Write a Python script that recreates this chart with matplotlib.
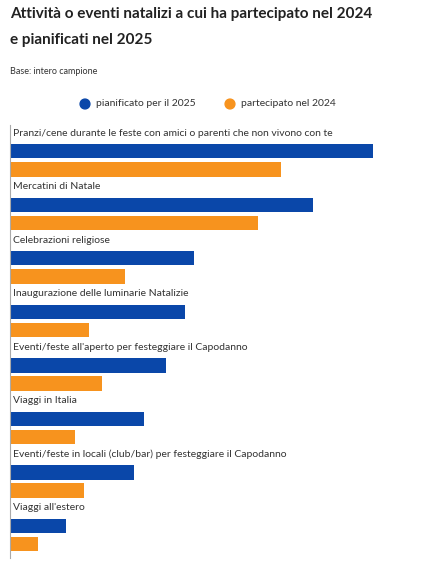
import matplotlib
matplotlib.use("Agg")
import matplotlib.pyplot as plt
import numpy as np

plt.rcParams['font.family'] = ['Lato', 'DejaVu Sans']

categories = [
    "Pranzi/cene durante le feste con amici o parenti che non vivono con te",
    "Mercatini di Natale",
    "Celebrazioni religiose",
    "Inaugurazione delle luminarie Natalizie",
    "Eventi/feste all'aperto per festeggiare il Capodanno",
    "Viaggi in Italia",
    "Eventi/feste in locali (club/bar) per festeggiare il Capodanno",
    "Viaggi all'estero",
]
pianificato_2025 = [363, 303, 184, 175, 156, 134, 124, 56]
partecipato_2024 = [271, 248, 115, 79, 92, 65, 74, 28]

blue = "#0a47a9"
orange = "#f7931e"

fig = plt.figure(figsize=(4.46, 5.74), dpi=100)
W, H = 446, 574
ax = fig.add_axes([10 / W, 1 - 558 / H, 426 / W, 433 / H])
pos = np.arange(len(categories))
ax.barh(pos + 0.49, pianificato_2025, height=0.27, color=blue)
ax.barh(pos + 0.83, partecipato_2024, height=0.27, color=orange)
for p, c in zip(pos, categories):
    ax.text(3, p + 0.15, c, fontsize=7.5, color="#333333", va="center", ha="left")
ax.set_xlim(0, 426)
ax.set_ylim(8.09, 0)
for s in ["top", "right", "bottom"]:
    ax.spines[s].set_visible(False)
ax.spines["left"].set_color("#aaaaaa")
ax.set_xticks([])
ax.set_yticks([])

fig.text(10 / W, 1 - 14 / H, "Attività o eventi natalizi a cui ha partecipato nel 2024",
         fontsize=11, fontweight="bold", color="#222222", va="center")
fig.text(10 / W, 1 - 40 / H, "e pianificati nel 2025",
         fontsize=11, fontweight="bold", color="#222222", va="center")
fig.text(10 / W, 1 - 71 / H, "Base: intero campione", fontsize=6.5, color="#333333", va="center")

lax = fig.add_axes([0, 1 - 114 / H, 1, 20 / H])
lax.set_xlim(0, W)
lax.set_ylim(-1, 1)
lax.axis("off")
lax.scatter([85, 230], [0, 0], s=50, color=[blue, orange])
lax.text(96, 0, "pianificato per il 2025", fontsize=7.5, color="#333333", va="center")
lax.text(241, 0, "partecipato nel 2024", fontsize=7.5, color="#333333", va="center")

fig.savefig("out.png", dpi=100)
